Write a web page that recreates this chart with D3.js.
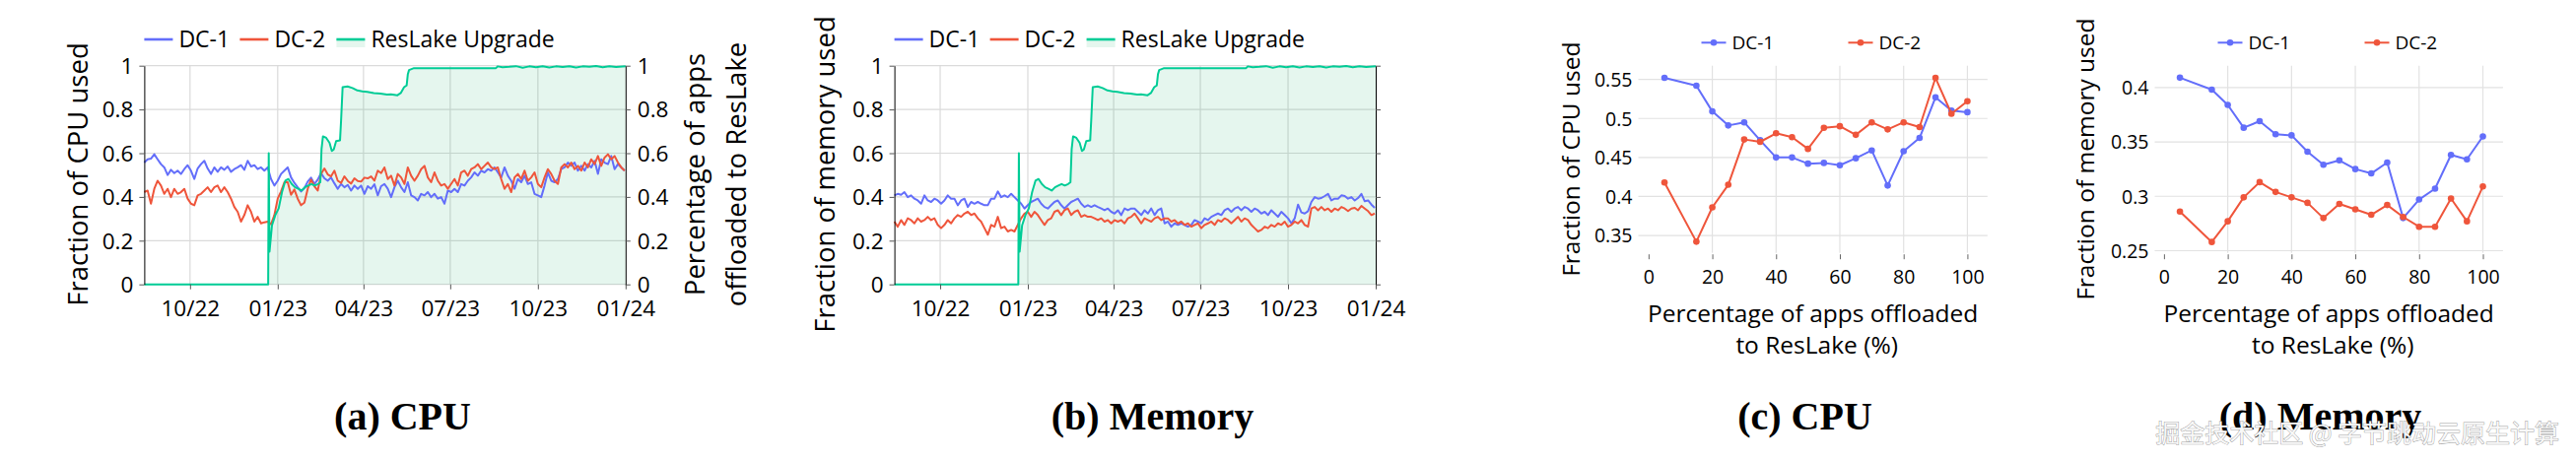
<!DOCTYPE html>
<html><head><meta charset="utf-8">
<script src="https://cdn.jsdelivr.net/npm/d3@7"></script>
<style>body{margin:0;background:#fff}</style>
</head><body>
<svg id="c" width="2614" height="468"></svg>
<script>
// ---------------- DATA ----------------
const startDate = new Date(2022, 7, 14);
const endDate = new Date(2024, 0, 1);
const stepDays = 3.5; // sampling interval of the daily-utilisation series

const cpuDC1 = [0.557,0.572,0.575,0.595,0.572,0.550,0.535,0.500,0.524,0.509,
0.520,0.505,0.527,0.545,0.520,0.482,0.530,0.550,0.565,0.530,
0.505,0.535,0.515,0.535,0.524,0.539,0.515,0.527,0.535,0.545,
0.524,0.565,0.539,0.545,0.527,0.535,0.520,0.535,0.482,0.452,
0.474,0.505,0.520,0.535,0.489,0.464,0.444,0.425,0.440,0.470,
0.488,0.459,0.479,0.509,0.485,0.474,0.489,0.462,0.437,0.459,
0.444,0.455,0.429,0.452,0.437,0.452,0.414,0.449,0.437,0.458,
0.407,0.449,0.459,0.437,0.399,0.444,0.474,0.444,0.422,0.467,
0.407,0.399,0.384,0.414,0.407,0.422,0.399,0.414,0.392,0.399,
0.369,0.429,0.422,0.437,0.422,0.459,0.452,0.474,0.489,0.512,
0.497,0.520,0.512,0.527,0.520,0.535,0.512,0.489,0.535,0.497,
0.474,0.437,0.482,0.467,0.497,0.459,0.467,0.414,0.407,0.399,
0.452,0.512,0.474,0.467,0.482,0.527,0.535,0.557,0.542,0.557,
0.520,0.542,0.520,0.550,0.535,0.565,0.505,0.572,0.557,0.550,
0.587,0.527,0.550,0.535,0.520];

const cpuDC2 = [0.422,0.429,0.369,0.437,0.474,0.452,0.414,0.437,0.399,0.437,
0.414,0.422,0.437,0.392,0.369,0.362,0.407,0.414,0.429,0.444,
0.422,0.444,0.452,0.422,0.444,0.422,0.392,0.354,0.332,0.287,
0.317,0.362,0.332,0.287,0.309,0.279,0.284,0.287,0.275,0.317,
0.392,0.425,0.467,0.467,0.410,0.434,0.392,0.362,0.374,0.437,
0.479,0.449,0.429,0.505,0.530,0.503,0.494,0.520,0.474,0.464,
0.494,0.473,0.461,0.485,0.473,0.470,0.488,0.485,0.494,0.474,
0.520,0.509,0.535,0.482,0.497,0.452,0.505,0.489,0.459,0.535,
0.497,0.474,0.497,0.527,0.542,0.489,0.467,0.512,0.474,0.452,
0.459,0.437,0.459,0.482,0.452,0.512,0.520,0.497,0.527,0.535,
0.550,0.527,0.542,0.557,0.535,0.527,0.535,0.482,0.437,0.459,
0.422,0.489,0.505,0.482,0.520,0.474,0.489,0.512,0.459,0.444,
0.489,0.527,0.505,0.474,0.459,0.535,0.550,0.535,0.557,0.527,
0.542,0.520,0.557,0.535,0.572,0.550,0.587,0.542,0.580,0.595,
0.572,0.587,0.557,0.535,0.520];

const memDC1 = [0.407,0.414,0.410,0.422,0.399,0.407,0.392,0.384,0.369,0.407,
0.384,0.377,0.392,0.384,0.369,0.384,0.407,0.392,0.392,0.362,
0.384,0.392,0.354,0.377,0.369,0.377,0.369,0.362,0.362,0.392,
0.392,0.425,0.399,0.407,0.399,0.414,0.399,0.384,0.369,0.347,
0.362,0.377,0.384,0.392,0.369,0.354,0.347,0.362,0.377,0.384,
0.362,0.347,0.362,0.377,0.384,0.392,0.369,0.354,0.362,0.354,
0.362,0.354,0.347,0.339,0.347,0.332,0.324,0.339,0.317,0.347,
0.339,0.347,0.347,0.332,0.317,0.339,0.324,0.347,0.317,0.339,
0.347,0.279,0.287,0.264,0.279,0.272,0.279,0.272,0.264,0.272,
0.294,0.287,0.279,0.302,0.294,0.309,0.317,0.324,0.317,0.339,
0.347,0.332,0.347,0.354,0.339,0.354,0.347,0.332,0.347,0.339,
0.324,0.332,0.317,0.339,0.324,0.309,0.332,0.317,0.302,0.279,
0.302,0.365,0.329,0.324,0.335,0.377,0.399,0.392,0.395,0.404,
0.414,0.384,0.392,0.392,0.407,0.404,0.392,0.399,0.384,0.395,
0.414,0.380,0.384,0.365,0.350];

const memDC2 = [0.287,0.264,0.294,0.272,0.302,0.294,0.279,0.302,0.287,0.294,
0.309,0.294,0.302,0.272,0.257,0.272,0.294,0.279,0.302,0.317,
0.309,0.324,0.332,0.317,0.324,0.302,0.287,0.257,0.227,0.272,
0.264,0.309,0.257,0.264,0.242,0.249,0.242,0.272,0.302,0.324,
0.332,0.309,0.332,0.317,0.294,0.272,0.294,0.302,0.332,0.339,
0.317,0.339,0.347,0.317,0.332,0.339,0.309,0.317,0.309,0.309,
0.302,0.294,0.302,0.287,0.294,0.279,0.294,0.287,0.294,0.279,
0.302,0.309,0.324,0.302,0.279,0.302,0.294,0.287,0.302,0.309,
0.294,0.302,0.302,0.287,0.294,0.279,0.287,0.272,0.279,0.264,
0.272,0.279,0.257,0.272,0.279,0.287,0.272,0.294,0.287,0.302,
0.294,0.279,0.294,0.309,0.287,0.302,0.294,0.272,0.257,0.242,
0.249,0.264,0.257,0.272,0.264,0.279,0.272,0.287,0.264,0.272,
0.287,0.279,0.294,0.272,0.264,0.347,0.354,0.339,0.354,0.339,
0.347,0.332,0.347,0.339,0.354,0.347,0.335,0.347,0.350,0.339,
0.359,0.347,0.335,0.317,0.324];

// ResLake upgrade: [days since startDate, fraction of apps offloaded]
const upgradeSeries = [[0,0],[130,0],[130.6,0.6],[131.4,0.15],[134,0.27],[137.5,0.317],[141,0.347],
[144.5,0.422],[148,0.474],[151.3,0.482],[154.7,0.459],[158.2,0.444],[161.6,0.437],[165,0.429],
[168.5,0.444],[172,0.452],[175.4,0.459],[178.8,0.452],[182.3,0.459],[184.7,0.467],[186,0.62],
[187.5,0.677],[190.9,0.670],[194.4,0.647],[196.8,0.610],[198.8,0.617],[201.3,0.655],[205.4,0.659],
[206.5,0.75],[208.1,0.902],[213.3,0.905],[218.5,0.898],[223.6,0.887],[228.8,0.883],[234,0.880],
[240.9,0.875],[247.8,0.872],[254.7,0.868],[258.8,0.869],[265.7,0.865],[269.1,0.875],[272.6,0.902],
[275.3,0.910],[276.5,0.96],[277.8,0.980],[283,0.989],[320,0.989],[369,0.989],[370.8,0.997],
[376,0.993],[383,0.995],[390,0.998],[397,0.991],[404,0.997],[411,0.993],[418,0.998],[425,0.992],
[432,0.997],[439,0.994],[446,0.998],[453,0.992],[460,0.997],[467,0.995],[474,0.999],[481,0.993],
[488,0.997],[495,0.994],[505,0.998]];

const timeTicks = ["2022-10-01","2023-01-01","2023-04-01","2023-07-01","2023-10-01","2024-01-01"];
const timeTickLabels = ["10/22","01/23","04/23","07/23","10/23","01/24"];
const fracTicks = [0,0.2,0.4,0.6,0.8,1];
const fracTickLabels = ["0","0.2","0.4","0.6","0.8","1"];

const offloadPct = [5,15,20,25,30,35,40,45,50,55,60,65,70,75,80,85,90,95,100];
const cpuByOffloadDC1 = [0.552,0.542,0.509,0.491,0.495,0.472,0.450,0.450,0.442,0.443,0.440,0.449,0.459,0.414,0.458,0.475,0.527,0.510,0.508];
const cpuByOffloadDC2 = [0.418,0.342,0.386,0.415,0.473,0.470,0.481,0.476,0.461,0.488,0.490,0.479,0.495,0.486,0.495,0.489,0.552,0.506,0.522];
const memByOffloadDC1 = [0.409,0.398,0.384,0.363,0.369,0.357,0.356,0.341,0.329,0.333,0.325,0.321,0.331,0.280,0.297,0.307,0.338,0.334,0.355];
const memByOffloadDC2 = [0.286,0.258,0.277,0.299,0.313,0.304,0.299,0.294,0.280,0.293,0.288,0.283,0.292,0.281,0.272,0.272,0.298,0.277,0.309];
const pctTicks = [0,20,40,60,80,100];
const cpuTicks = [0.35,0.4,0.45,0.5,0.55];
const cpuTickLabels = ["0.35","0.4","0.45","0.5","0.55"];
const memTicks = [0.25,0.3,0.35,0.4];
const memTickLabels = ["0.25","0.3","0.35","0.4"];

// ---------------- DRAWING ----------------
const C1 = "#636efa", C2 = "#ef553b", CG = "#00cc96", FILL = "rgba(20,170,100,0.11)";
const FONT = '"Open Sans","Noto Sans",sans-serif';
const svg = d3.select("#c").style("font-family", FONT);
const dayMs = 864e5;
const sampleDates = cpuDC1.map((_, i) => new Date(startDate.getTime() + i * stepDays * dayMs));
const tickDates = timeTicks.map(s => { const [y, m, d] = s.split("-").map(Number); return new Date(y, m - 1, d); });

function styleAxis(g, fs, tickColor) {
  g.selectAll("text").attr("fill", "#000").style("font-size", fs + "px").style("font-family", FONT);
  g.selectAll(".tick line").attr("stroke", tickColor);
}

function rotTitle(lines, cx, cy, fs, dys) {
  lines.forEach((t, k) => {
    svg.append("text").attr("transform", `translate(${cx[k]},${cy}) rotate(-90)`)
      .attr("text-anchor", "middle").attr("dy", dys[k]).style("font-size", fs + "px").attr("fill", "#000").text(t);
  });
}

function timePanel(p) {
  const x = d3.scaleTime().domain([startDate, endDate]).range([p.x0, p.x1]);
  const y = d3.scaleLinear().domain([0, 1]).range([p.yb, p.yt]);
  const g = svg.append("g");
  g.selectAll(".hg").data(fracTicks).join("line")
    .attr("x1", p.x0).attr("x2", p.x1).attr("y1", d => y(d)).attr("y2", d => y(d))
    .attr("stroke", "#dadada").attr("stroke-width", 1.2);
  g.selectAll(".vg").data(tickDates.slice(0, -1)).join("line")
    .attr("x1", d => x(d)).attr("x2", d => x(d)).attr("y1", p.yt).attr("y2", p.yb)
    .attr("stroke", "#dadada").attr("stroke-width", 1.2);
  const up = upgradeSeries.map(([d, v]) => [new Date(startDate.getTime() + d * dayMs), v]);
  g.append("path").datum(up).attr("fill", FILL)
    .attr("d", d3.area().x(d => x(d[0])).y0(y(0)).y1(d => y(d[1])));
  const ln = d3.line().x((d, i) => x(sampleDates[i])).y(d => y(d));
  [[p.dc1, C1], [p.dc2, C2]].forEach(([s, c]) => {
    g.append("path").datum(s).attr("fill", "none").attr("stroke", c).attr("stroke-width", 2)
      .attr("stroke-linejoin", "round").attr("d", ln);
  });
  g.append("path").datum(up).attr("fill", "none").attr("stroke", CG).attr("stroke-width", 2)
    .attr("stroke-linejoin", "round").attr("d", d3.line().x(d => x(d[0])).y(d => y(d[1])));

  // axes
  const ax = g.append("g").attr("transform", `translate(0,${p.yb})`)
    .call(d3.axisBottom(x).tickValues(tickDates).tickFormat((d, i) => timeTickLabels[i]).tickSize(5).tickSizeOuter(0).tickPadding(11));
  ax.select(".domain").remove();
  styleAxis(ax, 22.5, "#555");
  const ayl = g.append("g").attr("transform", `translate(${p.x0},0)`)
    .call(d3.axisLeft(y).tickValues(fracTicks).tickFormat((d, i) => fracTickLabels[i]).tickSize(5).tickSizeOuter(0).tickPadding(6));
  ayl.select(".domain").attr("stroke", "#000");
  styleAxis(ayl, 22.5, "#555");
  ayl.selectAll("text").attr("dy", "0.35em");
  const ayr = g.append("g").attr("transform", `translate(${p.x1},0)`)
    .call(d3.axisRight(y).tickValues(fracTicks).tickFormat((d, i) => fracTickLabels[i]).tickSize(5).tickSizeOuter(0).tickPadding(7));
  ayr.select(".domain").attr("stroke", "#000");
  styleAxis(ayr, 22.5, "#555");
  ayr.selectAll("text").attr("dy", "0.35em");
  if (!p.rightLabels) ayr.selectAll("text").remove();

  // legend
  const ly = 40;
  const items = [["DC-1", C1, false], ["DC-2", C2, false], ["ResLake Upgrade", CG, true]];
  const offs = [0, 97, 195];
  items.forEach(([name, col, filled], k) => {
    const lx = p.x0 + offs[k];
    if (filled) svg.append("rect").attr("x", lx).attr("y", ly).attr("width", 29).attr("height", 8).attr("fill", FILL);
    svg.append("line").attr("x1", lx).attr("x2", lx + 29).attr("y1", ly).attr("y2", ly)
      .attr("stroke", col).attr("stroke-width", 2.6);
    svg.append("text").attr("x", lx + 35).attr("y", ly + 8.3).style("font-size", "23px").attr("fill", "#000").text(name);
  });
}

function pctPanel(p) {
  const x = d3.scaleLinear().domain(p.xd).range([p.x0, p.x1]);
  const y = d3.scaleLinear().domain(p.yd).range([p.yb, p.yt]);
  const g = svg.append("g");
  g.selectAll(".hg").data(p.yTicks).join("line")
    .attr("x1", p.x0).attr("x2", p.x1).attr("y1", d => y(d)).attr("y2", d => y(d))
    .attr("stroke", "#e2e2e2").attr("stroke-width", 1.2);
  g.selectAll(".vg").data(pctTicks.slice(1)).join("line")
    .attr("x1", d => x(d)).attr("x2", d => x(d)).attr("y1", p.yt).attr("y2", p.yb)
    .attr("stroke", "#e2e2e2").attr("stroke-width", 1.2);
  [[p.dc1, C1], [p.dc2, C2]].forEach(([s, c]) => {
    const ln = d3.line().x((d, i) => x(offloadPct[i])).y(d => y(d));
    g.append("path").datum(s).attr("fill", "none").attr("stroke", c).attr("stroke-width", 2)
      .attr("stroke-linejoin", "round").attr("d", ln);
    g.selectAll(null).data(s).join("circle").attr("cx", (d, i) => x(offloadPct[i])).attr("cy", d => y(d))
      .attr("r", 3.3).attr("fill", c);
  });
  const ax = g.append("g").attr("transform", `translate(0,${p.yb + 1.5})`)
    .call(d3.axisBottom(x).tickValues(pctTicks).tickFormat(d3.format("d")).tickSize(5).tickSizeOuter(0).tickPadding(11));
  ax.select(".domain").remove();
  styleAxis(ax, 19.5, "#666");
  const ay = g.append("g").attr("transform", `translate(${p.x0},0)`)
    .call(d3.axisLeft(y).tickValues(p.yTicks).tickFormat((d, i) => p.yLabels[i]).tickSize(0).tickPadding(6));
  ay.select(".domain").remove();
  styleAxis(ay, 19.5, "#666");
  ay.selectAll("text").attr("dy", "0.35em");

  // x title (two lines)
  const cx = (p.x0 + p.x1) / 2;
  svg.append("text").attr("x", cx).attr("y", 327).attr("text-anchor", "middle").style("font-size", "24.5px").attr("fill", "#000").text("Percentage of apps offloaded");
  svg.append("text").attr("x", cx + 4).attr("y", 359).attr("text-anchor", "middle").style("font-size", "24.5px").attr("fill", "#000").text("to ResLake (%)");

  // legend
  const ly = 43.3;
  [["DC-1", C1], ["DC-2", C2]].forEach(([name, col], k) => {
    const lx = p.x0 + 64 + k * 149;
    svg.append("line").attr("x1", lx).attr("x2", lx + 25).attr("y1", ly).attr("y2", ly).attr("stroke", col).attr("stroke-width", 2);
    svg.append("circle").attr("cx", lx + 12.5).attr("cy", ly).attr("r", 3.3).attr("fill", col);
    svg.append("text").attr("x", lx + 31).attr("y", ly + 7).style("font-size", "19px").attr("fill", "#000").text(name);
  });
}

timePanel({x0: 146.4, x1: 634.8, yt: 66.7, yb: 288.7, dc1: cpuDC1, dc2: cpuDC2, rightLabels: true});
rotTitle(["Fraction of CPU used"], [79.5], 177, 27.5, ["0.36em"]);
rotTitle(["Percentage of apps", "offloaded to ResLake"], [708, 746.7], 177, 27.5, ["0.26em", "0.36em"]);

timePanel({x0: 907.6, x1: 1396, yt: 66.7, yb: 288.7, dc1: memDC1, dc2: memDC2, rightLabels: false});
rotTitle(["Fraction of memory used"], [840], 177, 27.5, ["0.26em"]);

pctPanel({x0: 1662.5, x1: 2016.8, yt: 66.7, yb: 256.7, xd: [-3.2, 106.3], yd: [0.3277, 0.5676],
  dc1: cpuByOffloadDC1, dc2: cpuByOffloadDC2, yTicks: cpuTicks, yLabels: cpuTickLabels});
rotTitle(["Fraction of CPU used"], [1594.6], 161.7, 24.5, ["0.36em"]);

pctPanel({x0: 2186.5, x1: 2539.9, yt: 66.7, yb: 256.7, xd: [-2.9, 106.3], yd: [0.248, 0.42],
  dc1: memByOffloadDC1, dc2: memByOffloadDC2, yTicks: memTicks, yLabels: memTickLabels});
rotTitle(["Fraction of memory used"], [2118.3], 161.7, 24.5, ["0.26em"]);

// captions
const captions = [["(a) CPU", 408.5], ["(b) Memory", 1169.5], ["(c) CPU", 1831.5], ["(d) Memory", 2354.5]];
captions.forEach(([t, cx]) => {
  svg.append("text").attr("x", cx).attr("y", 436).attr("text-anchor", "middle")
    .style("font-family", '"Liberation Serif","DejaVu Serif",serif').style("font-weight", "bold")
    .style("font-size", "40px").attr("fill", "#000").text(t);
});

// watermark
svg.append("text").attr("x", 2597).attr("y", 449).attr("text-anchor", "end")
  .style("font-family", '"Noto Sans CJK SC",sans-serif').style("font-size", "25px")
  .attr("fill", "#f8f8f8").attr("stroke", "rgba(80,80,80,0.55)").attr("stroke-width", 1)
  .style("paint-order", "stroke").text("掘金技术社区 @ 字节跳动云原生计算");
</script>
</body></html>
